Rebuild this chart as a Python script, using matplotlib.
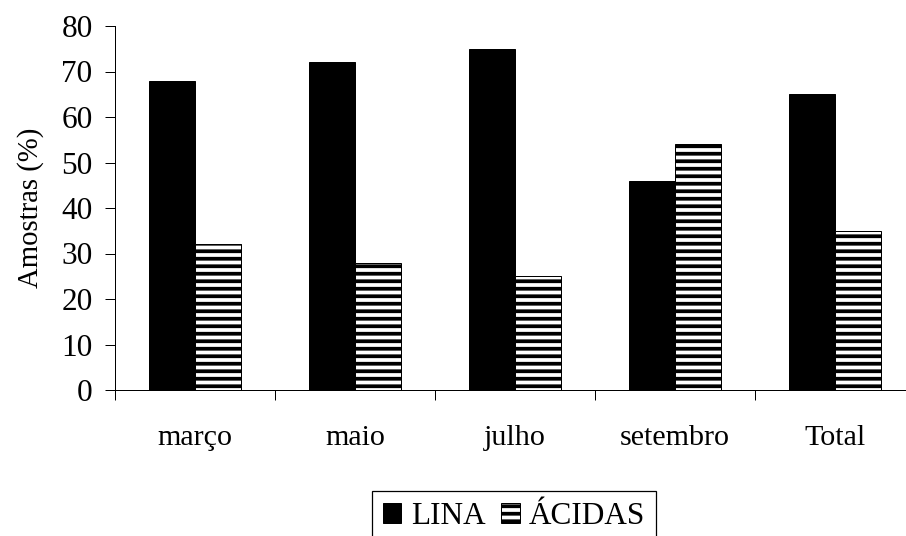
import matplotlib.pyplot as plt
import numpy as np

months = ['março', 'maio', 'julho', 'setembro', 'Total']
lina = [68, 72, 75, 46, 65]
acidas = [32, 28, 25, 54, 35]
yticks = [0, 10, 20, 30, 40, 50, 60, 70, 80]


def main():
    plt.rcParams['font.family'] = ['Liberation Serif', 'DejaVu Serif']
    plt.rcParams['hatch.linewidth'] = 3.0
    plt.rcParams['hatch.color'] = 'black'

    dpi = 90
    fig = plt.figure(figsize=(906 / dpi, 536 / dpi), dpi=dpi)
    # axes run a little past the right edge of the figure
    ax = fig.add_axes([115 / 906, 146 / 536, 800 / 906, 364 / 536])

    x = np.arange(len(months))
    width = 0.29
    ax.bar(x - width / 2, lina, width, color='black', edgecolor='black',
           linewidth=0.8, label='LINA')
    ax.bar(x + width / 2, acidas, width, color='white', edgecolor='black',
           linewidth=0.8, hatch='--', label='ÁCIDAS')

    ax.set_xlim(-0.5, len(months) - 0.5)
    ax.set_ylim(0, 80)
    ax.set_yticks(yticks)
    ax.tick_params(axis='y', labelsize=25, length=8, width=0.8, pad=10)

    # ticks between groups, labels under the group centres
    ax.set_xticks(np.arange(len(months) + 1) - 0.5)
    ax.set_xticklabels([])
    ax.set_xticks(x, months, minor=True)
    ax.tick_params(axis='x', which='major', length=8, width=0.8, direction='out')
    ax.tick_params(axis='x', which='minor', length=0, labelsize=24, pad=28)

    for side in ['top', 'right']:
        ax.spines[side].set_visible(False)
    for side in ['left', 'bottom']:
        ax.spines[side].set_linewidth(0.8)

    ax.set_ylabel('Amostras (%)', fontsize=23, labelpad=14)

    fig.legend(loc='upper center', bbox_to_anchor=(514 / 906, 1 - 491 / 536),
               ncol=2, fontsize=25, frameon=True, fancybox=False,
               edgecolor='black', framealpha=1, borderaxespad=0,
               handlelength=0.6, handleheight=0.6, handletextpad=0.3,
               columnspacing=0.5, borderpad=0.35)

    fig.savefig('out.png', dpi=dpi)


if __name__ == '__main__':
    main()
